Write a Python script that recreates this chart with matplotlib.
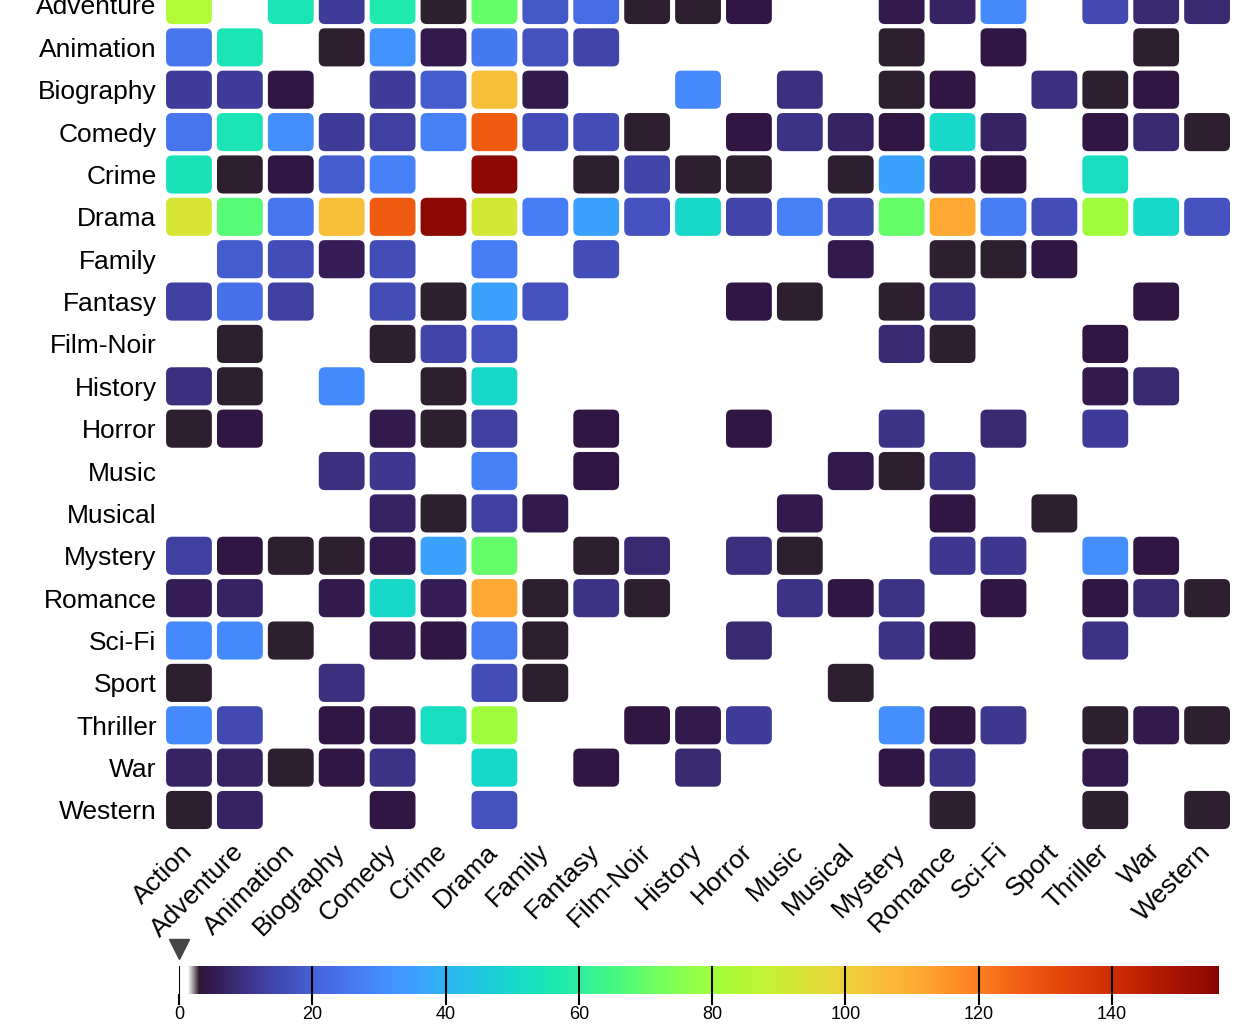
import numpy as np
import matplotlib
matplotlib.use('Agg')
import matplotlib.pyplot as plt
from matplotlib.patches import FancyBboxPatch
from matplotlib.colors import LinearSegmentedColormap, Normalize
from matplotlib.cm import ScalarMappable

plt.rcParams['font.family'] = ['Liberation Sans', 'DejaVu Sans']

# --- data: genre co-occurrence counts (row genre x column genre) ---
genres = ['Action', 'Adventure', 'Animation', 'Biography', 'Comedy', 'Crime',
          'Drama', 'Family', 'Fantasy', 'Film-Noir', 'History', 'Horror',
          'Music', 'Musical', 'Mystery', 'Romance', 'Sci-Fi', 'Sport',
          'Thriller', 'War', 'Western']

action    = [0, 84, 25, 12, 25, 54, 93, 0, 13, 0, 9, 3, 0, 0, 13, 6, 30, 3, 30, 7, 3]
adventure = [84, 0, 55, 12, 57, 3, 70, 18, 23, 3, 3, 4, 0, 0, 5, 7, 30, 0, 15, 8, 8]
animation = [25, 55, 0, 3, 32, 5, 26, 17, 14, 0, 0, 0, 0, 0, 3, 0, 4, 0, 0, 3, 0]
biography = [12, 12, 4, 0, 12, 19, 105, 5, 0, 0, 30, 0, 9, 0, 3, 4, 0, 9, 3, 4, 0]
comedy    = [25, 55, 31, 12, 13, 28, 127, 16, 16, 3, 0, 4, 10, 7, 4, 50, 7, 0, 4, 8, 3]
crime     = [54, 3, 4, 19, 28, 0, 155, 0, 3, 14, 3, 3, 0, 3, 36, 6, 4, 0, 52, 0, 0]
drama     = [93, 68, 25, 105, 127, 155, 92, 27, 36, 17, 50, 14, 28, 14, 70, 111, 27, 16, 80, 50, 17]
family    = [0, 19, 16, 6, 16, 0, 27, 0, 16, 0, 0, 0, 0, 5, 0, 3, 3, 4, 0, 0, 0]
fantasy   = [13, 24, 13, 0, 16, 3, 36, 17, 0, 0, 0, 4, 3, 0, 3, 10, 0, 0, 0, 4, 0]
film_noir = [0, 3, 0, 0, 3, 14, 17, 0, 0, 0, 0, 0, 0, 0, 8, 3, 0, 0, 4, 0, 0]
history   = [9, 3, 0, 30, 0, 3, 50, 0, 0, 0, 0, 0, 0, 0, 0, 0, 0, 0, 5, 8, 0]
horror    = [3, 4, 0, 0, 5, 3, 13, 0, 4, 0, 0, 4, 0, 0, 10, 0, 8, 0, 12, 0, 0]
music     = [0, 0, 0, 9, 11, 0, 28, 0, 4, 0, 0, 0, 0, 5, 3, 10, 0, 0, 0, 0, 0]
musical   = [0, 0, 0, 0, 7, 3, 13, 5, 0, 0, 0, 0, 5, 0, 0, 4, 0, 3, 0, 0, 0]
mystery   = [13, 4, 3, 3, 5, 36, 70, 0, 3, 8, 0, 9, 3, 0, 0, 11, 11, 0, 31, 4, 0]
romance   = [6, 7, 0, 5, 50, 6, 111, 3, 10, 3, 0, 0, 10, 4, 10, 0, 4, 0, 4, 8, 3]
sci_fi    = [30, 30, 3, 0, 5, 4, 27, 3, 0, 0, 0, 8, 0, 0, 10, 4, 0, 0, 10, 0, 0]
sport     = [3, 0, 0, 9, 0, 0, 16, 3, 0, 0, 0, 0, 0, 3, 0, 0, 0, 0, 0, 0, 0]
thriller  = [30, 15, 0, 4, 5, 52, 80, 0, 0, 4, 5, 12, 0, 0, 31, 4, 11, 0, 3, 5, 3]
war       = [7, 7, 3, 4, 10, 0, 50, 0, 4, 0, 8, 0, 0, 0, 4, 10, 0, 0, 5, 0, 0]
western   = [3, 7, 0, 0, 4, 0, 17, 0, 0, 0, 0, 0, 0, 0, 0, 3, 0, 0, 3, 0, 3]

counts = np.array([action, adventure, animation, biography, comedy, crime, drama,
                   family, fantasy, film_noir, history, horror, music, musical,
                   mystery, romance, sci_fi, sport, thriller, war, western])

cbar_ticks = [0, 20, 40, 60, 80, 100, 120, 140]
vmax = 156

# --- colour scale: white fade near zero, then turbo ---
turbo = plt.get_cmap('turbo')
stops = [(0.0, 'white'), (1.3 / vmax, 'white'), (3.0 / vmax, '#2b1b2d')]
for v in np.linspace(4, vmax, 60):
    stops.append((v / vmax, turbo((v - 3) / (vmax - 3) * 0.985)))
cmap = LinearSegmentedColormap.from_list('genre_turbo', stops, N=2048)
norm = Normalize(vmin=0, vmax=vmax)

# --- figure ---
fig = plt.figure(figsize=(12.36, 10.24), dpi=100)
ax = fig.add_axes([0.1323, 0.1883, 0.8649, 0.8689])

n = len(genres)
for i in range(n):
    for j in range(n):
        v = counts[i, j]
        if v <= 0:
            continue
        box = FancyBboxPatch((j - 0.45, i - 0.45), 0.9, 0.9,
                             boxstyle='round,pad=0,rounding_size=0.12',
                             mutation_aspect=1.2,
                             facecolor=cmap(norm(v)), edgecolor='none')
        ax.add_patch(box)

ax.set_xlim(-0.5, n - 0.5)
ax.set_ylim(n - 0.5, -0.5)
ax.set_xticks(range(n))
ax.set_yticks(range(n))
ax.set_xticklabels(genres, rotation=45, ha='right', va='center',
                   rotation_mode='anchor', fontsize=19)
ax.set_yticklabels(genres, fontsize=19)
ax.tick_params(axis='y', length=0, pad=5)
ax.tick_params(axis='x', length=0, pad=12)
for s in ax.spines.values():
    s.set_visible(False)

# --- colour bar ---
cax = fig.add_axes([0.1448, 0.0293, 0.8411, 0.0273])
cb = fig.colorbar(ScalarMappable(norm=norm, cmap=cmap), cax=cax,
                  orientation='horizontal')
cb.outline.set_visible(False)
cb.set_ticks(cbar_ticks)
cax.tick_params(direction='out', length=8, width=1.5, color='black',
                labelsize=13, pad=1)
cax.vlines(cbar_ticks, 0, 1, color='black', linewidth=1.5,
           transform=cax.get_xaxis_transform())
cax.plot([0], [1.62], marker='v', markersize=14, color='#444444',
         transform=cax.get_xaxis_transform(), clip_on=False)

fig.savefig('out.png', dpi=100, facecolor='white')
